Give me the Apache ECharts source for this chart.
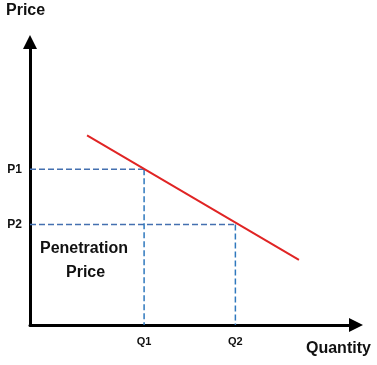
<!DOCTYPE html>
<html><head><meta charset="utf-8">
<script src="https://cdn.jsdelivr.net/npm/echarts@6/dist/echarts.min.js"></script>
<style>html,body{margin:0;padding:0;background:#fff}#c{width:377px;height:365px}</style>
</head><body><div id="c"></div>
<script>
// Data (abstract units, axis 0..100)
const quantities = [35, 63];          // Q1, Q2
const quantityLabels = ['Q1', 'Q2'];
const prices = [55, 35.5];            // P1, P2
const priceLabels = ['P1', 'P2'];
const demandQ = [17.5, 82.5];
const demandP = [67, 23];
const areaLabel = ['Penetration', 'Price'];

const FONT = '"Liberation Sans", Arial, sans-serif';
const chart = echarts.init(document.getElementById('c'));

const demand = demandQ.map((q, i) => [q, demandP[i]]);
const hGuide = (i) => [[0, prices[i]], [quantities[i], prices[i]]];
const vGuide = (i) => [[quantities[i], prices[i]], [quantities[i], 0]];

const axisLine = { lineStyle: { color: '#000', width: 3 }, symbol: ['none', 'triangle'], symbolSize: [14, 14], symbolOffset: [0, 0] };
const dashH = { color: '#4470b0', width: 1.5, type: [6, 3] };
const dashV = { color: '#2f78bd', width: 1.5, type: [6, 3] };

chart.setOption({
  animation: false,
  grid: { left: 30, right: 21, top: 42, bottom: 40 },
  xAxis: {
    type: 'value', min: 0, max: 100,
    splitLine: { show: false },
    axisTick: { show: false },
    axisLine: axisLine,
    axisLabel: {
      customValues: quantities, margin: 11,
      formatter: v => quantityLabels[quantities.indexOf(v)],
      fontFamily: FONT, fontWeight: 'bold', fontSize: 11, color: '#111'
    }
  },
  yAxis: {
    type: 'value', min: 0, max: 100,
    splitLine: { show: false },
    axisTick: { show: false },
    axisLine: axisLine,
    axisLabel: {
      customValues: prices, margin: 8,
      formatter: v => priceLabels[prices.indexOf(v)],
      fontFamily: FONT, fontWeight: 'bold', fontSize: 12, color: '#111'
    }
  },
  graphic: [
    { type: 'text', left: 6, top: 3, style: { text: 'Price', font: 'bold 16px ' + FONT, fill: '#111' } },
    { type: 'text', left: 306, top: 341, style: { text: 'Quantity', font: 'bold 16px ' + FONT, fill: '#111' } },
    { type: 'text', left: 40, top: 241, style: { text: areaLabel[0], font: 'bold 16px ' + FONT, fill: '#111' } },
    { type: 'text', left: 66, top: 265, style: { text: areaLabel[1], font: 'bold 16px ' + FONT, fill: '#111' } }
  ],
  series: [
    { type: 'line', data: hGuide(0), symbol: 'none', silent: true, lineStyle: dashH },
    { type: 'line', data: hGuide(1), symbol: 'none', silent: true, lineStyle: dashH },
    { type: 'line', data: vGuide(0), symbol: 'none', silent: true, lineStyle: dashV },
    { type: 'line', data: vGuide(1), symbol: 'none', silent: true, lineStyle: dashV },
    { type: 'line', data: demand, symbol: 'none', silent: true,
      lineStyle: { color: '#e02424', width: 2 } }
  ]
});
</script></body></html>
